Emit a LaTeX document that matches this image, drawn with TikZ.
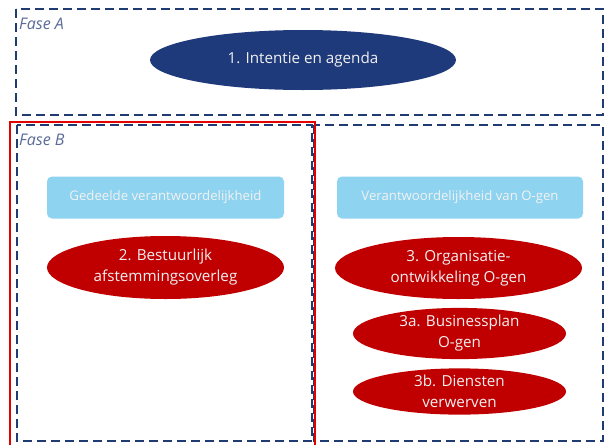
\documentclass[tikz,border=0pt]{standalone}
\usepackage{fontspec}
\setmainfont{Open Sans}
\usetikzlibrary{shapes.geometric}
\definecolor{dkblue}{HTML}{1F3A7A}
\definecolor{dashblue}{HTML}{203A72}
\definecolor{myred}{HTML}{C00000}
\definecolor{ltblue}{HTML}{8ED3EF}
\definecolor{labgray}{HTML}{5B6B98}
\begin{document}
\begin{tikzpicture}[x=1pt,y=-1pt,
  phase/.style={draw=dashblue,line width=1.9pt,dash pattern=on 9pt off 5pt},
  phaselabel/.style={anchor=west,font=\itshape\fontsize{16}{18}\selectfont,text=labgray,inner sep=0pt},
  oval/.style={ellipse,fill=myred,text=white!88!gray,align=center,inner sep=0pt,font=\fontsize{15.2}{21}\selectfont},
  band/.style={rounded corners=5pt,fill=ltblue,text=white!90!gray,font=\fontsize{13.2}{15}\selectfont,inner sep=0pt}]
\useasboundingbox (0,0) rectangle (606,445);
\fill[white] (0,0) rectangle (606,445);
% Fase A
\draw[phase] (16,9) rectangle (603,115);
\node[phaselabel] (fa) at (19,24) {Fase A};
\node[ellipse,fill=dkblue,text=white!88!gray,minimum width=306pt,minimum height=60pt,inner sep=0pt,font=\fontsize{15.2}{18}\selectfont] (n1) at (303,60) {1. Intentie en agenda};
% Fase B
\draw[phase] (17,125) rectangle (312,441);
\draw[phase] (314,125) rectangle (603,441);
\draw[red!90!black,line width=1.3pt] (10,445.5) -- (10,122) -- (315,122) -- (315,445.5);
\node[phaselabel] (fb) at (19,140) {Fase B};
\node[band,minimum width=237pt,minimum height=42pt] (g) at (165.5,197.5) {Gedeelde verantwoordelijkheid};
\node[band,minimum width=246pt,minimum height=42pt] (v) at (460,197.5) {Verantwoordelijkheid van O-gen};
\node[oval,minimum width=237pt,minimum height=63pt] (n2) at (165.5,267.5) {2. Bestuurlijk\\afstemmingsoverleg};
\node[oval,minimum width=247pt,minimum height=62pt] (n3) at (458.5,268) {3. Organisatie-\\ontwikkeling O-gen};
\node[oval,minimum width=213pt,minimum height=45pt] (n3a) at (459.5,333.5) {3a. Businessplan\\O-gen};
\node[oval,minimum width=213pt,minimum height=45pt] (n3b) at (459.5,391.5) {3b. Diensten\\verwerven};
\end{tikzpicture}
\end{document}
